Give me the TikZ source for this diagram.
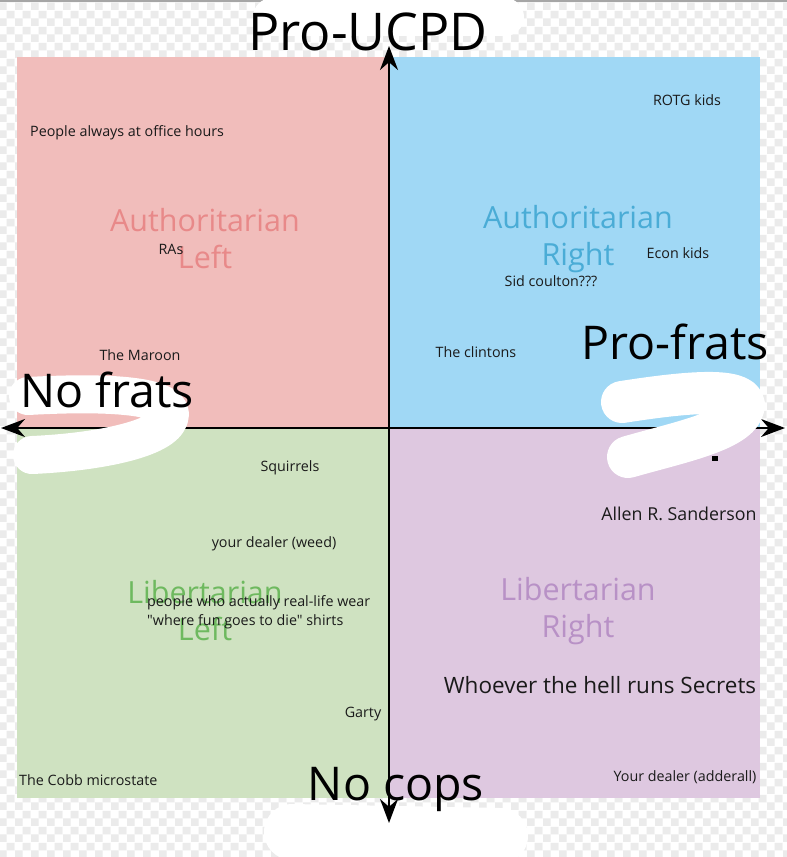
\documentclass[tikz,border=0pt]{standalone}
\usepackage{xcolor}
\usepackage{fontspec}
\setmainfont{Open Sans}
\newfontfamily\plainfont{Open Sans}
\usepackage{tikz}
\usetikzlibrary{arrows.meta,patterns.meta}
\definecolor{alfill}{HTML}{F1BDBB}
\definecolor{altext}{HTML}{E88989}
\definecolor{arfill}{HTML}{A0D8F5}
\definecolor{artext}{HTML}{4AACD6}
\definecolor{llfill}{HTML}{CFE2C1}
\definecolor{lltext}{HTML}{6EB95F}
\definecolor{lrfill}{HTML}{DEC8E0}
\definecolor{lrtext}{HTML}{B891C6}
\definecolor{pbody}{HTML}{1A1A1A}
\definecolor{chkgrey}{HTML}{EBEBEB}
\tikzdeclarepattern{
  name=chk,
  type=colored,
  bounding box={(0pt,0pt) and (16pt,16pt)},
  tile size={(16pt,16pt)},
  code={
    \fill[white] (0pt,0pt) rectangle (16pt,16pt);
    \fill[chkgrey] (0pt,0pt) rectangle (8pt,8pt);
    \fill[chkgrey] (8pt,8pt) rectangle (16pt,16pt);
  }
}

\begin{document}
\begin{tikzpicture}[x=1pt, y=-1pt,
  axis/.style={{Stealth[length=24pt, width=18pt]}-{Stealth[length=24pt, width=18pt]}, line width=2.2pt, draw=black},
  scrib/.style={draw=white, line width=38pt, line cap=round, line join=round},
  qtitle/.style={font=\fontsize{30.5}{37}\selectfont, align=center, inner sep=0pt},
  axlab/.style={font=\fontsize{46.5}{56}\selectfont, text=black, inner sep=0pt, anchor=base},
  item/.style={font=\fontsize{14.3}{19.5}\selectfont, text=pbody, inner sep=0pt}]
  \useasboundingbox (0,0) rectangle (787,857);
  % --- transparency checker + top edge
  \fill[pattern=chk] (0,0) rectangle (787,857);
  \fill[gray!70] (0,0) rectangle (787,2);
  % --- quadrants
  \fill[alfill] (17,57)   rectangle (389,428);
  \fill[arfill] (389,57)  rectangle (760,428);
  \fill[llfill] (17,428)  rectangle (389,798);
  \fill[lrfill] (389,428) rectangle (760,798);
  \node[qtitle, text=altext] (alt) at (205,239) {Authoritarian\\Left};
  \node[qtitle, text=artext] (art) at (578,239) {Authoritarian\\Right};
  \node[qtitle, text=lltext] (llt) at (205,611) {Libertarian\\Left};
  \node[qtitle, text=lrtext] (lrt) at (578,611) {Libertarian\\Right};
  % --- axes
  \coordinate (top)   at (389,46);
  \coordinate (bot)   at (389,823);
  \coordinate (left)  at (1,428);
  \coordinate (right) at (785,428);
  \draw[axis] (left) -- (right);
  % --- white scribbles
  \draw[scrib] (272,17) -- (505,17);
  \draw[scrib] (28,396) .. controls (100,392) and (168,394) .. (170,414)
               .. controls (170,438) and (100,452) .. (32,455);
  \draw[scrib, line width=42pt] (622,402) .. controls (680,393) and (742,386) .. (744,405)
               .. controls (742,430) and (680,442) .. (628,457);
  \draw[scrib, line width=56pt] (292,832) -- (500,836);
  \draw[axis] (bot) -- (top);
  \fill[black] (712,456) rectangle (718,461);
  % --- axis labels
  \node[axlab, font=\fontsize{52}{60}\selectfont] (ucpd) at (368,50) {Pro-UCPD};
  \node[axlab] (pfr)   at (675,359) {Pro-frats};
  \node[axlab] (nfr)   at (107,407) {No frats};
  \node[axlab] (ncops) at (396,800) {No cops};
  % --- placed people
  \node[item] (rotg)   at (687,100) {ROTG kids};
  \node[item, anchor=west] (office) at (30,133) {People always at office hours};
  \node[item] (ras)    at (171,249) {RAs};
  \node[item] (econ)   at (678,253) {Econ kids};
  \node[item] (sid)    at (551,281) {Sid coulton???};
  \node[item] (maroon) at (140,355) {The Maroon};
  \node[item] (clint)  at (476,352) {The clintons};
  \node[item] (squir)  at (290,468) {Squirrels};
  \node[item, font=\fontsize{17.8}{22}\selectfont] (allen) at (679,514) {Allen R. Sanderson};
  \node[item] (weed)   at (274,544) {your dealer (weed)};
  \node[item, anchor=west, align=left, font=\plainfont\fontsize{14.3}{19.5}\selectfont] (shirts) at (147,612)
       {people who actually real-life wear\\"where fun goes to die" shirts};
  \node[item, font=\fontsize{22.5}{26}\selectfont] (secr) at (600,685) {Whoever the hell runs Secrets};
  \node[item] (garty)  at (363,714) {Garty};
  \node[item, anchor=west] (cobb) at (19,780) {The Cobb microstate};
  \node[item] (adder)  at (685,777) {Your dealer (adderall)};
\end{tikzpicture}
\end{document}
